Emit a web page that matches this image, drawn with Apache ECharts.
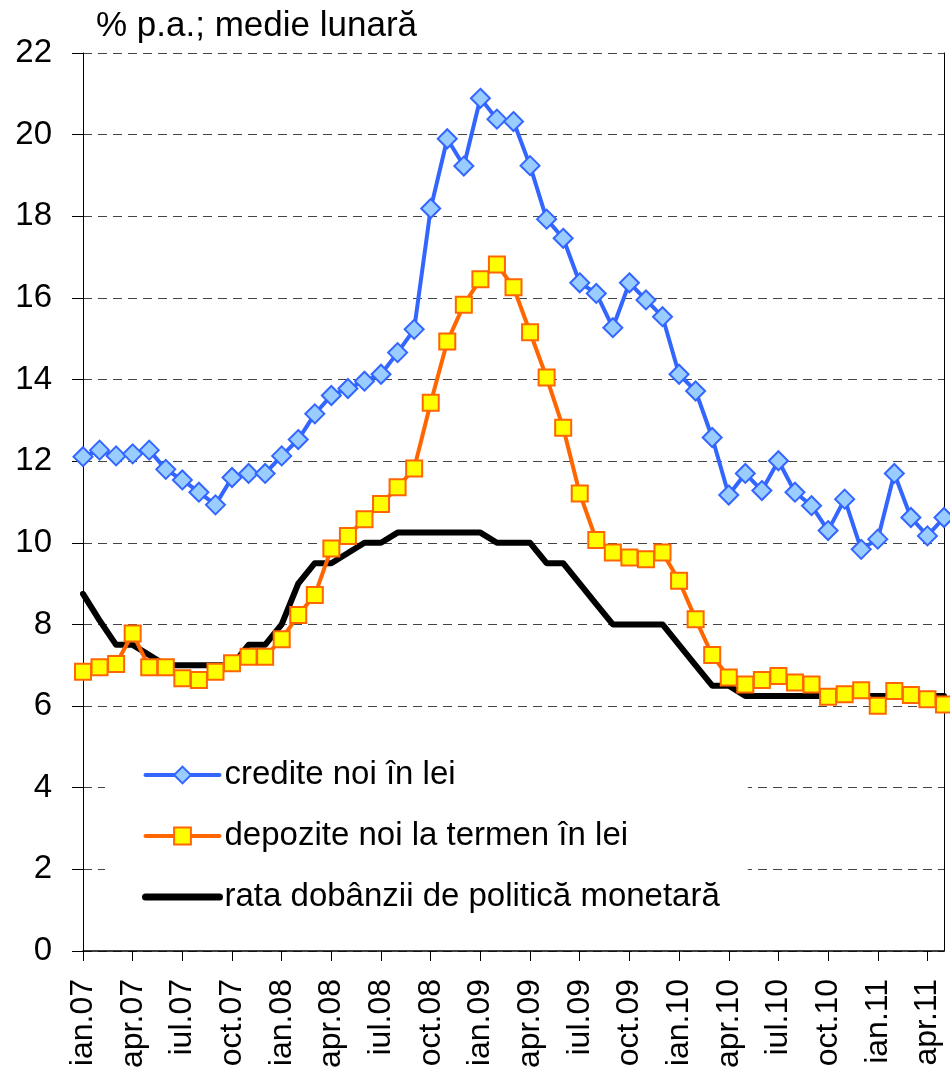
<!DOCTYPE html>
<html>
<head>
<meta charset="utf-8">
<script src="https://cdn.jsdelivr.net/npm/echarts@6/dist/echarts.min.js"></script>
<style>
html,body{margin:0;padding:0;background:#fff;}
#chart{width:950px;height:1074px;}
</style>
</head>
<body>
<div id="chart"></div>
<script>
const categories = [
 'ian.07','feb.07','mar.07','apr.07','mai.07','iun.07','iul.07','aug.07','sep.07','oct.07','noi.07','dec.07',
 'ian.08','feb.08','mar.08','apr.08','mai.08','iun.08','iul.08','aug.08','sep.08','oct.08','noi.08','dec.08',
 'ian.09','feb.09','mar.09','apr.09','mai.09','iun.09','iul.09','aug.09','sep.09','oct.09','noi.09','dec.09',
 'ian.10','feb.10','mar.10','apr.10','mai.10','iun.10','iul.10','aug.10','sep.10','oct.10','noi.10','dec.10',
 'ian.11','feb.11','mar.11','apr.11','mai.11'
];
const crediteNoi = [12.11,12.27,12.13,12.18,12.27,11.80,11.54,11.24,10.93,11.60,
 11.70,11.70,12.13,12.53,13.16,13.61,13.78,13.96,14.13,14.66,
 15.23,18.19,19.90,19.23,20.89,20.38,20.32,19.24,17.93,17.46,
 16.37,16.11,15.27,16.37,15.95,15.54,14.13,13.72,12.58,11.17,
 11.70,11.28,12.01,11.24,10.91,10.30,11.07,9.84,10.09,11.70,
 10.62,10.17,10.62];
const depoziteNoi = [6.84,6.95,7.03,7.78,6.95,6.95,6.68,6.64,6.84,7.05,
 7.21,7.21,7.64,8.23,8.72,9.86,10.17,10.58,10.95,11.36,
 11.82,13.43,14.93,15.83,16.46,16.82,16.26,15.16,14.05,12.82,
 11.21,10.07,9.76,9.64,9.60,9.76,9.07,8.13,7.25,6.70,
 6.53,6.64,6.74,6.58,6.53,6.23,6.29,6.39,6.01,6.37,
 6.27,6.17,6.04];
const rataPolitica = [8.75,8.1,7.5,7.5,7.25,7.0,7.0,7.0,7.0,7.0,
 7.5,7.5,8.0,9.0,9.5,9.5,9.75,10.0,10.0,10.25,
 10.25,10.25,10.25,10.25,10.25,10.0,10.0,10.0,9.5,9.5,
 9.0,8.5,8.0,8.0,8.0,8.0,7.5,7.0,6.5,6.5,
 6.25,6.25,6.25,6.25,6.25,6.25,6.25,6.25,6.25,6.25,
 6.25,6.25,6.25];
const seriesNames = ['credite noi în lei','depozite noi la termen în lei','rata dobânzii de politică monetară'];
const yTitle = '% p.a.; medie lunară';

const FONT = "'Liberation Sans', Arial, sans-serif";
const chart = echarts.init(document.getElementById('chart'), null, {renderer:'canvas'});
chart.setOption({
  animation: false,
  backgroundColor: '#fff',
  title: {
    text: yTitle, left: 91, top: 4,
    textStyle: {fontFamily: FONT, fontSize: 35, fontWeight: 'normal', color: '#000'}
  },
  grid: {left: 83, right: 6, top: 53, bottom: 123, containLabel: false},
  legend: {
    orient: 'vertical', left: 105, top: 733,
    padding: [24, 28, 10, 37], itemGap: 25, itemWidth: 74, itemHeight: 21,
    backgroundColor: '#fff',
    textStyle: {fontFamily: FONT, fontSize: 33, color: '#000', lineHeight: 36},
    data: [
      {name: seriesNames[0], lineStyle: {width: 4, cap: 'round'}},
      {name: seriesNames[1], lineStyle: {width: 4, cap: 'round'}},
      {name: seriesNames[2], lineStyle: {width: 7, cap: 'round'},
       itemStyle: {color: 'rgba(0,0,0,0)', borderColor: 'rgba(0,0,0,0)', borderWidth: 0, opacity: 0}}
    ]
  },
  xAxis: {
    type: 'category', data: categories, boundaryGap: false,
    axisLine: {lineStyle: {color: '#000', width: 1.5}},
    axisTick: {show: true, interval: 2, length: 10, lineStyle: {color: '#000', width: 1}},
    axisLabel: {interval: 2, rotate: 90, margin: 28, fontFamily: FONT, fontSize: 32, color: '#000'},
    splitLine: {show: false}
  },
  yAxis: [{
    type: 'value', min: 0, max: 22, interval: 2,
    axisLine: {show: true, lineStyle: {color: '#000', width: 1}},
    axisTick: {show: true, length: 11, lineStyle: {color: '#000'}},
    axisLabel: {margin: 31, fontFamily: FONT, fontSize: 33, color: '#000'},
    splitLine: {show: true, lineStyle: {color: '#444', width: 1, type: [9, 6]}}
  }, {
    type: 'value', min: 0, max: 22, interval: 2, position: 'right',
    axisLine: {show: true, lineStyle: {color: '#000', width: 1}},
    axisTick: {show: false}, axisLabel: {show: false}, splitLine: {show: false}
  }],
  series: [
    {
      name: seriesNames[2], type: 'line', data: rataPolitica, symbol: 'none',
      lineStyle: {color: '#000', width: 6, cap: 'round', join: 'round'},
      itemStyle: {color: '#000'}, z: 2
    },
    {
      name: seriesNames[1], type: 'line', data: depoziteNoi,
      symbol: 'rect', symbolSize: 16, showSymbol: true, showAllSymbol: true,
      lineStyle: {color: '#FF6600', width: 4},
      itemStyle: {color: '#FFFF00', borderColor: '#FF6600', borderWidth: 2}, z: 3
    },
    {
      name: seriesNames[0], type: 'line', data: crediteNoi,
      symbol: 'diamond', symbolSize: 19, showSymbol: true, showAllSymbol: true,
      lineStyle: {color: '#3366FF', width: 4},
      itemStyle: {color: '#99CCFF', borderColor: '#3366FF', borderWidth: 2}, z: 4
    }
  ]
});
</script>
</body>
</html>
